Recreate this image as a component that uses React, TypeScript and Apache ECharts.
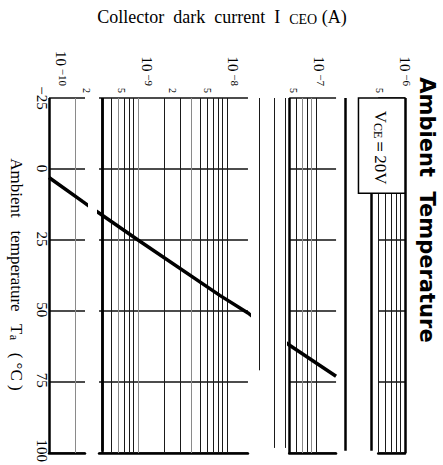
import React, { useEffect, useRef } from 'react';
import * as echarts from 'echarts';

// ---- data ----
const temperatureTicks = [-25, 0, 25, 50, 75, 100];
const decadeExponents = [-10, -9, -8, -7, -6];
const mantissaLabelCurrents = [2e-10, 5e-10, 2e-9, 5e-9, 5e-8, 5e-7];
const gridMantissas = [1, 2, 3, 4, 5, 6, 7, 8, 9];

// Collector dark current curve, VCE = 20 V
const curveTemperature = [3, 11.5, 15.5, 25, 44.5, 50.7, 62, 73];
const curveCurrent = [1e-10, 2.4e-10, 3.65e-10, 1e-9, 8.3e-9, 1.72e-8, 5e-8, 1.68e-7];

// printed strips of the (broken) scan, in amperes
const stripFrom = [1e-10, 3.65e-10, 5e-8, 5e-7];
const stripTo = [2.54e-10, 1.72e-8, 1.68e-7, 1e-6];

// rules that survive between the strips
const gapRuleCurrent = [3e-10, 2e-8, 3e-8, 4e-8, 2e-7, 4e-7];
const gapRuleTo = [100, 71.5, 99, 99, 100, 100];

const heavyRuleCurrent = [1e-10, 3e-10, 4e-10, 5e-8, 2e-7, 4e-7, 1e-6];
const greyRuleCurrent = [2e-10, 6e-10, 1e-9, 4e-9, 7e-8, 9e-8];

// legend box (VCE) extent
const boxFromCurrent = 3e-7;
const boxToTemperature = 8.5;

// ---- layout ----
const W = 443;
const H = 465;
const PL = 49;
const PR = 405;
const PT = 98;
const PB = 453;
const LOG_MIN = decadeExponents[0];
const LOG_MAX = decadeExponents[decadeExponents.length - 1];
const T_MIN = temperatureTicks[0];
const T_MAX = temperatureTicks[temperatureTicks.length - 1];
const SERIF = '"Liberation Serif", "Times New Roman", serif';

const lg = (v: number) => Math.log10(v);
const xOf = (logI: number) => PL + ((logI - LOG_MIN) / (LOG_MAX - LOG_MIN)) * (PR - PL);
const yOf = (t: number) => PT + ((t - T_MIN) / (T_MAX - T_MIN)) * (PB - PT);
const key = (v: number) => Math.round(lg(v) * 1000);
const heavySet = new Set(heavyRuleCurrent.map(key));
const greySet = new Set(greyRuleCurrent.map(key));

const allRules: number[] = [];
decadeExponents.slice(0, -1).forEach((e) => gridMantissas.forEach((m) => allRules.push(m * Math.pow(10, e))));
allRules.push(Math.pow(10, LOG_MAX));

const ruleStyle = (v: number) => {
  if (heavySet.has(key(v))) return { color: '#000', width: 2.5, type: 'solid' as const };
  if (greySet.has(key(v))) return { color: '#8a8a8a', width: 1, type: 'solid' as const };
  return { color: '#1a1a1a', width: 1, type: 'solid' as const };
};

const curveData = curveCurrent.map((c, i) => [lg(c), curveTemperature[i]]);

function buildOption() {
  const grids: any[] = [{ left: PL, right: W - PR, top: PT, bottom: H - PB }];
  const xAxes: any[] = [
    {
      gridIndex: 0,
      type: 'value',
      position: 'top',
      min: LOG_MIN,
      max: LOG_MAX,
      axisLine: { show: false },
      axisTick: { show: false },
      splitLine: { show: false },
      axisLabel: {
        customValues: [...decadeExponents, ...mantissaLabelCurrents.map(lg)],
        rotate: -90,
        margin: 5,
        color: '#000',
        fontFamily: SERIF,
        formatter: (v: number) => {
          if (Math.abs(v - Math.round(v)) < 1e-6) {
            return `{b|10}{e| −${-Math.round(v)}}`;
          }
          const m = Math.round(Math.pow(10, v - Math.floor(v)));
          return `{m|${m}}`;
        },
        rich: {
          b: { fontFamily: SERIF, fontSize: 15, color: '#000' },
          e: { fontFamily: SERIF, fontSize: 11, color: '#000', verticalAlign: 'top', padding: [0, 7, 0, 0] },
          m: { fontFamily: SERIF, fontSize: 10, color: '#000' },
        },
      },
      name: 'Collector  dark  current  I  {s|CEO} (A)',
      nameLocation: 'middle',
      nameGap: 72,
      nameTextStyle: {
        fontFamily: SERIF,
        fontSize: 18,
        color: '#000',
        padding: [0, 22, 0, 0],
        rich: {
          s: { fontFamily: SERIF, fontSize: 14, color: '#000', verticalAlign: 'bottom' },
        },
      },
    },
  ];
  const yAxes: any[] = [
    {
      gridIndex: 0,
      type: 'value',
      inverse: true,
      min: T_MIN,
      max: T_MAX,
      interval: 25,
      axisLine: { show: false },
      axisTick: { show: false },
      splitLine: { show: false },
      axisLabel: {
        rotate: -90,
        margin: 12,
        color: '#000',
        fontFamily: SERIF,
        fontSize: 15,
        formatter: (v: number) => (v < 0 ? `−${-v}` : `${v}`),
      },
      name: 'Ambient   temperature   T{s|a}   ( °C )',
      nameLocation: 'middle',
      nameRotate: -90,
      nameGap: 36,
      nameTextStyle: {
        fontFamily: SERIF,
        fontSize: 17,
        color: '#000',
        rich: {
          s: { fontFamily: SERIF, fontSize: 12, color: '#000', verticalAlign: 'bottom' },
        },
      },
    },
  ];

  const series: any[] = [
    {
      type: 'line',
      xAxisIndex: 0,
      yAxisIndex: 0,
      data: [],
      silent: true,
      markLine: {
        silent: true,
        symbol: ['none', 'none'],
        label: { show: false },
        data: gapRuleCurrent.map((c, i) => [
          { coord: [lg(c), T_MIN], lineStyle: ruleStyle(c) },
          { coord: [lg(c), gapRuleTo[i]] },
        ]),
      },
    },
  ];

  stripFrom.forEach((from, i) => {
    const lo = lg(from);
    const hi = lg(stripTo[i]);
    const gi = i + 1;
    grids.push({ left: xOf(lo), right: W - xOf(hi), top: PT, bottom: H - PB });
    xAxes.push({
      gridIndex: gi,
      type: 'value',
      position: 'bottom',
      min: lo,
      max: hi,
      axisLine: { show: true, onZero: false, lineStyle: { color: '#000', width: 2.5 } },
      axisTick: { show: false },
      axisLabel: { show: false },
      splitLine: { show: false },
    });
    yAxes.push({
      gridIndex: gi,
      type: 'value',
      inverse: true,
      min: T_MIN,
      max: T_MAX,
      interval: 25,
      axisLine: { show: false },
      axisTick: { show: false },
      axisLabel: { show: false },
      splitLine: { show: true, lineStyle: { color: '#111', width: 1.5 } },
    });
    const rules = allRules.filter((v) => lg(v) >= lo - 1e-9 && lg(v) <= hi + 1e-9);
    series.push({
      type: 'line',
      xAxisIndex: gi,
      yAxisIndex: gi,
      data: [],
      silent: true,
      markLine: {
        silent: true,
        symbol: ['none', 'none'],
        label: { show: false },
        data: rules.map((v) => ({ xAxis: lg(v), lineStyle: ruleStyle(v) })),
      },
    });
    series.push({
      type: 'line',
      xAxisIndex: gi,
      yAxisIndex: gi,
      data: curveData,
      showSymbol: false,
      symbol: 'none',
      clip: true,
      z: 10,
      lineStyle: { color: '#000', width: 3.5 },
    });
  });

  const boxX = xOf(lg(boxFromCurrent));
  const boxBottom = yOf(boxToTemperature);

  return {
    animation: false,
    backgroundColor: '#fff',
    grid: grids,
    xAxis: xAxes,
    yAxis: yAxes,
    series,
    graphic: [
      {
        type: 'rect',
        z: 50,
        shape: { x: boxX, y: PT, width: PR - boxX, height: boxBottom - PT },
        style: { fill: '#fff', stroke: '#000', lineWidth: 1.5 },
      },
      {
        type: 'text',
        z: 51,
        x: (boxX + PR) / 2 - 1,
        y: (PT + boxBottom) / 2 + 2,
        rotation: -Math.PI / 2,
        style: {
          text: 'V{s|CE}＝20V',
          fontFamily: SERIF,
          fontSize: 17,
          fill: '#000',
          align: 'center',
          verticalAlign: 'middle',
          rich: {
            s: { fontFamily: SERIF, fontSize: 12, fill: '#000', verticalAlign: 'bottom' },
          },
        },
      },
      {
        type: 'text',
        z: 51,
        x: 427,
        y: 210,
        rotation: -Math.PI / 2,
        style: {
          text: 'Ambient  Temperature',
          fontFamily: '"DejaVu Sans", sans-serif',
          fontWeight: 900,
          fontSize: 21,
          fill: '#000',
          align: 'center',
          verticalAlign: 'middle',
        },
      },
    ],
  };
}

export default function App() {
  const ref = useRef<HTMLDivElement>(null);
  useEffect(() => {
    if (!ref.current) return;
    const chart = echarts.init(ref.current, undefined, { renderer: 'svg', width: W, height: H });
    chart.setOption(buildOption() as any);
    return () => chart.dispose();
  }, []);
  return (
    <div
      ref={ref}
      style={{ position: 'fixed', left: 0, top: 0, width: W, height: H, background: '#fff' }}
    />
  );
}
